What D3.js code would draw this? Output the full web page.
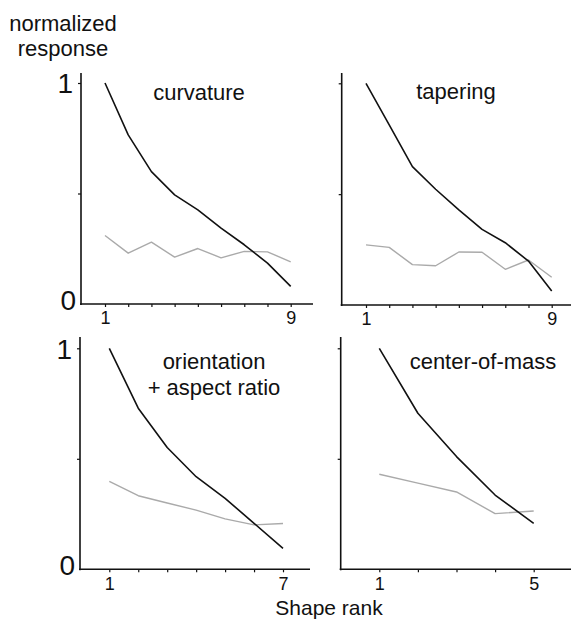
<!DOCTYPE html>
<html>
<head>
<meta charset="utf-8">
<script src="https://cdn.jsdelivr.net/npm/d3@7"></script>
<style>
  html, body { margin: 0; padding: 0; background: #fff; }
  svg { display: block; font-family: "Liberation Sans", Arial, sans-serif; }
</style>
</head>
<body>
<svg id="chart" width="571" height="619"></svg>
<script>
// ---- data ----
const panelTitles = [["curvature"], ["tapering"], ["orientation", "+ aspect ratio"], ["center-of-mass"]];

const curvatureBlack = [1.0, 0.765, 0.599, 0.494, 0.426, 0.343, 0.268, 0.185, 0.08];
const curvatureGray  = [0.31, 0.23, 0.28, 0.212, 0.251, 0.209, 0.238, 0.236, 0.191];

const taperingBlack = [1.0, 0.812, 0.624, 0.522, 0.429, 0.341, 0.281, 0.198, 0.063];
const taperingGray  = [0.271, 0.260, 0.182, 0.177, 0.239, 0.238, 0.161, 0.203, 0.125];

const orientationBlack = [1.0, 0.729, 0.551, 0.419, 0.321, 0.208, 0.095];
const orientationGray  = [0.398, 0.333, 0.300, 0.268, 0.228, 0.201, 0.207];

const comBlack = [1.0, 0.706, 0.510, 0.336, 0.208];
const comGray  = [0.430, 0.390, 0.350, 0.252, 0.264];

const yTickValues = [0, 0.5, 1];
const yTickLabels = {0: "0", 1: "1"};
const yAxisLabel = ["normalized", "response"];
const xAxisLabel = "Shape rank";

// ---- layout ----
const panels = [
  {title: panelTitles[0], black: curvatureBlack, gray: curvatureGray,
   ax: 81, axEnd: 313, yTop: 73, y0: 304, y1: 83, xa: 105, xb: 290.7, showY: true,
   tx: 199, ty: 100},
  {title: panelTitles[1], black: taperingBlack, gray: taperingGray,
   ax: 341.7, axEnd: 571, yTop: 73, y0: 305, y1: 83.3, xa: 366, xb: 551.7, showY: false,
   tx: 456, ty: 99},
  {title: panelTitles[2], black: orientationBlack, gray: orientationGray,
   ax: 80, axEnd: 310, yTop: 337, y0: 569.3, y1: 348.3, xa: 109.3, xb: 283, showY: true,
   tx: 214, ty: 369},
  {title: panelTitles[3], black: comBlack, gray: comGray,
   ax: 340.7, axEnd: 571, yTop: 337, y0: 569.3, y1: 348.3, xa: 379.3, xb: 533.7, showY: false,
   tx: 483, ty: 369}
];

const svg = d3.select("#chart");

panels.forEach(p => {
  const n = p.black.length;
  const ranks = d3.range(1, n + 1);
  const x = d3.scaleLinear().domain([1, n]).range([p.xa, p.xb]);
  const y = d3.scaleLinear().domain([0, 1]).range([p.y0, p.y1]);
  const g = svg.append("g");

  // x axis
  const xAxis = d3.axisBottom(x)
    .tickValues(ranks)
    .tickSize(3)
    .tickSizeOuter(0)
    .tickFormat(d => (d === 1 || d === n) ? String(d) : "");
  const xg = g.append("g").attr("transform", `translate(0,${p.y0})`).call(xAxis);
  xg.select(".domain").remove();
  xg.selectAll(".tick line").attr("stroke", "#111").attr("stroke-width", 1.2);
  xg.selectAll(".tick text").attr("fill", "#111").attr("font-size", 18)
    .attr("font-family", "Liberation Sans, Arial, sans-serif").attr("dy", "0.8em");
  g.append("line")
    .attr("x1", p.ax - 1).attr("x2", p.axEnd)
    .attr("y1", p.y0).attr("y2", p.y0)
    .attr("stroke", "#111").attr("stroke-width", 1.6);

  // y axis
  const yAxis = d3.axisLeft(y)
    .tickValues(yTickValues)
    .tickSize(3)
    .tickSizeOuter(0)
    .tickFormat(d => p.showY && yTickLabels[d] !== undefined ? yTickLabels[d] : "");
  const yg = g.append("g").attr("transform", `translate(${p.ax},0)`).call(yAxis);
  yg.select(".domain").remove();
  yg.selectAll(".tick line").attr("stroke", "#111").attr("stroke-width", 1.2)
    .attr("x2", d => d === 0 ? 0 : -3);
  yg.selectAll(".tick text").attr("fill", "#111").attr("font-size", 28)
    .attr("font-family", "Liberation Sans, Arial, sans-serif")
    .attr("x", d => d === 1 ? -8 : -5)
    .attr("dy", d => d === 0 ? "0.2em" : "0.35em");
  g.append("line")
    .attr("x1", p.ax).attr("x2", p.ax)
    .attr("y1", p.yTop).attr("y2", p.y0 + 1)
    .attr("stroke", "#111").attr("stroke-width", 1.6);

  const line = d3.line().x((d, i) => x(ranks[i])).y(d => y(d));
  g.append("path").datum(p.gray).attr("d", line)
    .attr("fill", "none").attr("stroke", "#aaaaaa").attr("stroke-width", 1.4)
    .attr("stroke-linejoin", "round");
  g.append("path").datum(p.black).attr("d", line)
    .attr("fill", "none").attr("stroke", "#111").attr("stroke-width", 1.6)
    .attr("stroke-linejoin", "round");

  // title
  const t = g.append("text").attr("text-anchor", "middle")
    .attr("font-size", 22).attr("fill", "#111");
  p.title.forEach((s, i) => {
    t.append("tspan").attr("x", p.tx).attr("y", p.ty + i * 26).text(s);
  });
});

// axis labels
const yl = svg.append("text").attr("text-anchor", "middle").attr("font-size", 22).attr("fill", "#111");
yAxisLabel.forEach((s, i) => yl.append("tspan").attr("x", 63).attr("y", 31 + i * 25).text(s));

svg.append("text").attr("x", 329).attr("y", 614.5).attr("text-anchor", "middle")
  .attr("font-size", 21).attr("fill", "#111").text(xAxisLabel);
</script>
</body>
</html>
